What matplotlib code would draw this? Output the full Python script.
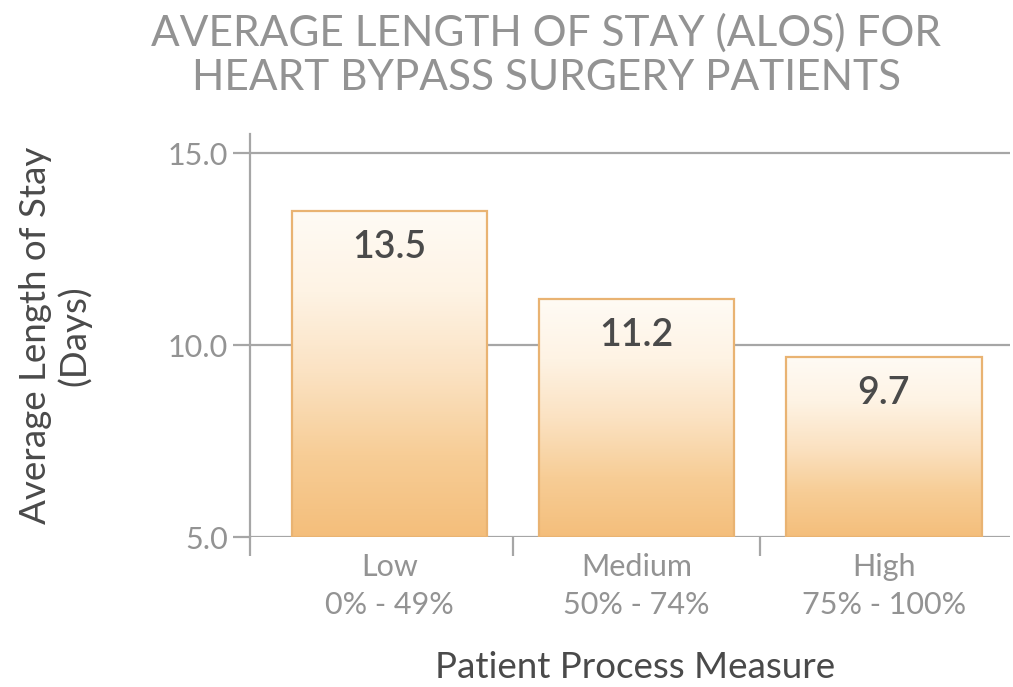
import matplotlib

matplotlib.use("Agg")
import matplotlib.pyplot as plt
import numpy as np
from matplotlib.colors import LinearSegmentedColormap

# data
CATEGORIES = ["Low\n0% - 49%", "Medium\n50% - 74%", "High\n75% - 100%"]
ALOS_DAYS = [13.5, 11.2, 9.7]
Y_TICKS = [5.0, 10.0, 15.0]

TITLE = "AVERAGE LENGTH OF STAY (ALOS) FOR\nHEART BYPASS SURGERY PATIENTS"
FONT = ["Lato", "DejaVu Sans"]
AXIS_GRAY = "#a6a6a6"
LABEL_GRAY = "#939393"
DARK = "#4a4a4a"

plt.rcParams["font.family"] = FONT

fig = plt.figure(figsize=(10.13, 6.87), dpi=100)
ax = fig.add_axes([0.2468, 0.2183, 0.7502, 0.5866])

x = np.arange(len(ALOS_DAYS))
x_left, x_right = -0.563, 2.51
base = Y_TICKS[0]

bars = ax.bar(x, np.array(ALOS_DAYS) - base, bottom=base, width=0.79,
              facecolor="none", edgecolor="#e9b372", linewidth=1.6, zorder=3)

# vertical gradient inside each bar
grad_cmap = LinearSegmentedColormap.from_list(
    "bar_grad", ["#f4be7b", "#f7cd96", "#fbe2c2", "#fef3e4", "#fffbf5"])
grad = np.linspace(0, 1, 256).reshape(-1, 1)
for bar in bars:
    x0, y0 = bar.get_x(), bar.get_y()
    w, h = bar.get_width(), bar.get_height()
    im = ax.imshow(grad, cmap=grad_cmap, origin="lower", aspect="auto",
                   extent=(x0, x0 + w, y0, y0 + h), zorder=2)
    im.set_clip_path(bar)
    ax.text(x0 + w / 2, y0 + h - 0.5, f"{y0 + h:.1f}", ha="center", va="top",
            fontsize=27, color=DARK, fontweight="semibold", zorder=4)

ax.set_xlim(x_left, x_right)
ax.set_ylim(base, 15.5)

# gridlines
for yv in Y_TICKS:
    ax.axhline(yv, color=AXIS_GRAY, linewidth=1.6, zorder=1)

ax.set_yticks(Y_TICKS)
ax.set_yticklabels([f"{v:.1f}" for v in Y_TICKS], fontsize=22,
                   color=LABEL_GRAY)
ax.tick_params(axis="y", length=12, width=1.6, color=AXIS_GRAY, pad=4)

# x ticks at the category boundaries (and under the y spine)
ax.set_xticks([x_left, 0.5, 1.5])
ax.set_xticklabels([])
ax.tick_params(axis="x", length=14, width=1.6, color=AXIS_GRAY)
for xi, label in zip(x, CATEGORIES):
    ax.text(xi, base - 0.42, label, ha="center", va="top", fontsize=22,
            color=LABEL_GRAY, linespacing=1.45, transform=ax.transData)

for side in ("top", "right", "bottom"):
    ax.spines[side].set_visible(False)
ax.spines["left"].set_color(AXIS_GRAY)
ax.spines["left"].set_linewidth(1.6)

ax.set_ylabel("Average Length of Stay\n(Days)", fontsize=26.5, color=DARK,
              labelpad=55, linespacing=1.15)
fig.text(0.6268, 0.028, "Patient Process Measure", ha="center", va="center",
         fontsize=26.5, color=DARK)
fig.text(0.5390, 0.98, TITLE, ha="center", va="top", fontsize=30.5,
         color=LABEL_GRAY, linespacing=1.2)

fig.savefig("out.png", dpi=100)
